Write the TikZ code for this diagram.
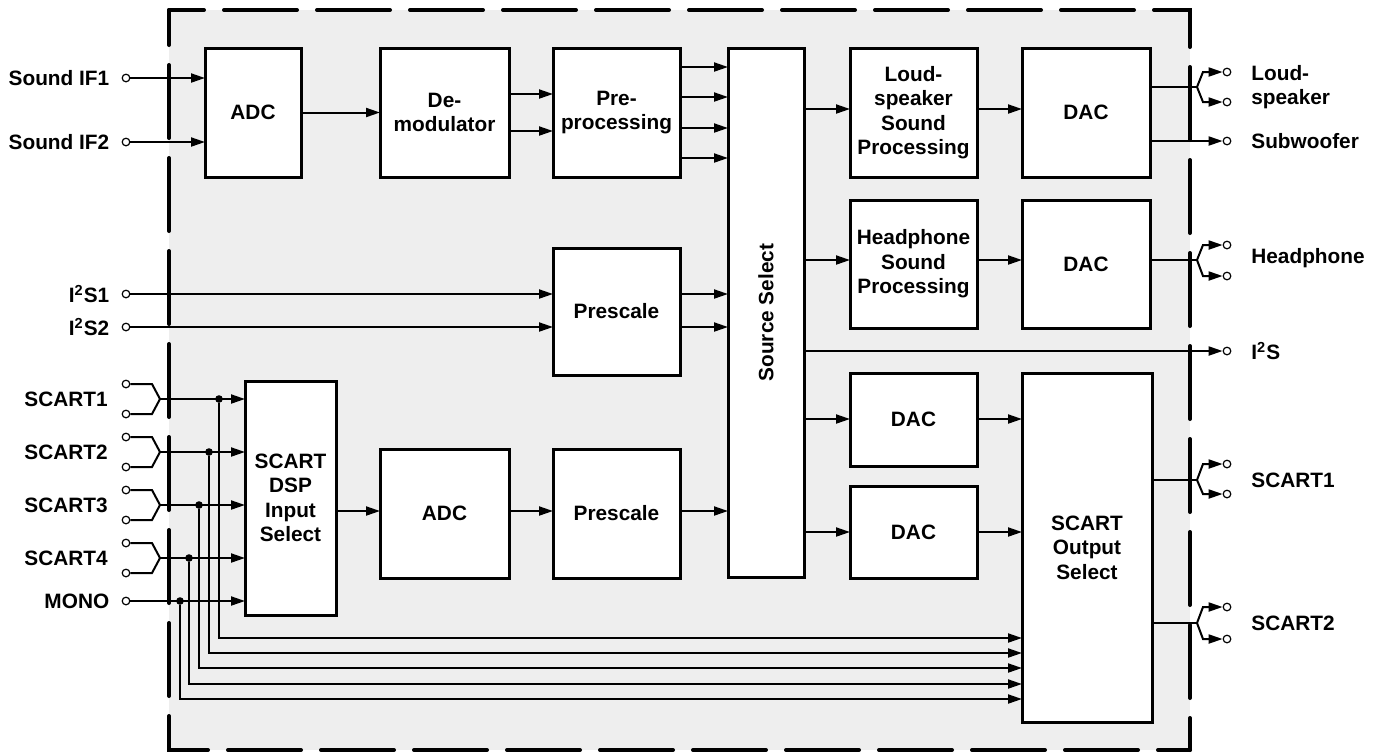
\documentclass[tikz,border=0pt]{standalone}
\usepackage{fontspec}
\setmainfont{Liberation Sans}
\usetikzlibrary{positioning,arrows.meta}
\definecolor{chipgray}{HTML}{EEEEEE}

\begin{document}
\begin{tikzpicture}[
  x=0.5pt, y=-0.5pt,
  box/.style={draw, line width=1.5pt, fill=white, outer sep=0pt, inner sep=1pt,
              align=center, minimum width=63.5pt, minimum height=64.5pt,
              font=\bfseries\fontsize{10.4}{12.2}\selectfont},
  lbl/.style={font=\bfseries\fontsize{10.4}{12.2}\selectfont, inner sep=0pt},
  term/.style={circle, draw, fill=white, line width=0.6pt, inner sep=0pt, minimum size=3.8pt},
  jdot/.style={circle, fill, inner sep=0pt, minimum size=3.8pt},
  wire/.style={line width=1pt},
  arr/.style={wire, -{Triangle[length=7pt,width=4.5pt]}},
  chipedge/.style={line width=2pt, line cap=round, dash pattern=on 36.5pt off 10pt, dash phase=19pt}
]
\useasboundingbox (0,0) rectangle (1383,752);

% chip outline
\fill[chipgray] (169,10) rectangle (1190,750);
\draw[chipedge] (169,10) -- (1190,10) -- (1190,750);
\draw[chipedge] (169,10) -- (169,750) -- (1190,750);

% blocks
\node[box, minimum width=48pt] (adc) at (253,112.5) {ADC};
\node[box, minimum width=64.5pt, right=39.5pt of adc] (demod) {De-\\modulator};
\node[box, right=22pt of demod] (pre) {Pre-\\processing};
\node[box, minimum width=38pt, minimum height=264.5pt,
      right=24pt of pre.north east, anchor=north west] (src) {};
\node[lbl, rotate=90] (srctxt) at (src) {Source Select};
\node[box, right=23pt of src.north east, anchor=north west] (lsp) {Loud-\\speaker\\Sound\\Processing};
\node[box, minimum width=64pt, right=22.5pt of lsp] (dac1) {DAC};
\node[box, minimum height=64pt, below=11.5pt of lsp] (hsp) {Headphone\\Sound\\Processing};
\node[box, minimum width=64pt, minimum height=64pt, right=22.5pt of hsp] (dac2) {DAC};
\node[box, minimum height=63.5pt, below=35.5pt of pre] (presc1) {Prescale};
\node[box, below=37pt of presc1] (presc2) {Prescale};
\node[box, minimum width=64.5pt, left=22pt of presc2] (adc2) {ADC};
\node[box, minimum width=45.5pt, minimum height=117pt] (sin) at (290.5,498) {SCART\\DSP\\Input\\Select};
\node[box, minimum height=46.5pt, below=22.5pt of hsp] (dac3) {DAC};
\node[box, minimum height=46pt, below=10pt of dac3] (dac4) {DAC};
\node[box, minimum width=65pt, minimum height=174.5pt,
      right=22.5pt of dac3.north east, anchor=north west] (sout) {SCART\\Output\\Select};

% inputs
\node[term] (sif1) at (126,78) {};
\node[lbl, left=6pt of sif1] (sif1l) {Sound IF1};
\node[term] (sif2) at (126,142) {};
\node[lbl, left=6pt of sif2] (sif2l) {Sound IF2};
\node[term] (i2s1) at (126,294) {};
\node[lbl, left=6pt of i2s1] (i2s1l) {I\textsuperscript{2}S1};
\node[term] (i2s2) at (126,327) {};
\node[lbl, left=6pt of i2s2] (i2s2l) {I\textsuperscript{2}S2};

\node[term] (scin1a) at (126,384) {};
\node[term] (scin1b) at (126,414) {};
\coordinate (scin1j) at (160,399);
\node[lbl, anchor=east] (scin1l) at (108,399) {SCART1};
\node[term] (scin2a) at (126,437) {};
\node[term] (scin2b) at (126,467) {};
\coordinate (scin2j) at (160,452);
\node[lbl, anchor=east] (scin2l) at (108,452) {SCART2};
\node[term] (scin3a) at (126,490) {};
\node[term] (scin3b) at (126,520) {};
\coordinate (scin3j) at (160,505);
\node[lbl, anchor=east] (scin3l) at (108,505) {SCART3};
\node[term] (scin4a) at (126,543) {};
\node[term] (scin4b) at (126,573) {};
\coordinate (scin4j) at (160,558);
\node[lbl, anchor=east] (scin4l) at (108,558) {SCART4};
\node[term] (mono) at (126,601) {};
\node[lbl, left=6pt of mono] (monol) {MONO};

% outputs
\node[term] (lsp1) at (1227,72) {};
\node[term] (lsp2) at (1227,102) {};
\coordinate (lspj) at (1197,87);
\node[lbl, anchor=west, align=left] (lspl) at (1251,87) {Loud-\\speaker};
\node[term] (sub) at (1227,141) {};
\node[lbl, anchor=west] (subl) at (1251,141) {Subwoofer};
\node[term] (hp1) at (1227,245) {};
\node[term] (hp2) at (1227,276) {};
\coordinate (hpj) at (1197,260);
\node[lbl, anchor=west] (hpl) at (1251,258) {Headphone};
\node[term] (i2so) at (1227,351) {};
\node[lbl, anchor=west] (i2sol) at (1251,351) {I\textsuperscript{2}S};
\node[term] (scout1a) at (1227,464) {};
\node[term] (scout1b) at (1227,494) {};
\coordinate (scout1j) at (1197,480);
\node[lbl, anchor=west] (scout1l) at (1251,480) {SCART1};
\node[term] (scout2a) at (1227,607) {};
\node[term] (scout2b) at (1227,639) {};
\coordinate (scout2j) at (1197,623);
\node[lbl, anchor=west] (scout2l) at (1251,623) {SCART2};

% sound IF path
\draw[arr] (sif1) -- (sif1 -| adc.west);
\draw[arr] (sif2) -- (sif2 -| adc.west);
\draw[arr] (adc) -- (demod);
\draw[arr] (demod.east |- 0,94) -- (pre.west |- 0,94);
\draw[arr] (demod.east |- 0,131) -- (pre.west |- 0,131);
\draw[arr] (pre.east |- 0,67) -- (src.west |- 0,67);
\draw[arr] (pre.east |- 0,97) -- (src.west |- 0,97);
\draw[arr] (pre.east |- 0,128) -- (src.west |- 0,128);
\draw[arr] (pre.east |- 0,158) -- (src.west |- 0,158);

% I2S path
\draw[arr] (i2s1) -- (i2s1 -| presc1.west);
\draw[arr] (i2s2) -- (i2s2 -| presc1.west);
\draw[arr] (presc1.east |- i2s1) -- (src.west |- i2s1);
\draw[arr] (presc1.east |- i2s2) -- (src.west |- i2s2);

% SCART inputs
\draw[wire] (scin1a) -- (152,384) -- (scin1j) -- (152,414) -- (scin1b);
\draw[wire] (scin2a) -- (152,437) -- (scin2j) -- (152,467) -- (scin2b);
\draw[wire] (scin3a) -- (152,490) -- (scin3j) -- (152,520) -- (scin3b);
\draw[wire] (scin4a) -- (152,543) -- (scin4j) -- (152,573) -- (scin4b);
\draw[arr] (scin1j) -- (scin1j -| sin.west);
\draw[arr] (scin2j) -- (scin2j -| sin.west);
\draw[arr] (scin3j) -- (scin3j -| sin.west);
\draw[arr] (scin4j) -- (scin4j -| sin.west);
\draw[arr] (mono) -- (mono -| sin.west);
\node[jdot] (j1) at (219,399) {};
\node[jdot] (j2) at (209,452) {};
\node[jdot] (j3) at (199,505) {};
\node[jdot] (j4) at (189,558) {};
\node[jdot] (j5) at (180,601) {};
\draw[arr] (j1) |- (sout.west |- 0,638);
\draw[arr] (j2) |- (sout.west |- 0,653);
\draw[arr] (j3) |- (sout.west |- 0,668);
\draw[arr] (j4) |- (sout.west |- 0,684);
\draw[arr] (j5) |- (sout.west |- 0,699);
\draw[arr] (sin.east |- 0,511) -- (adc2.west |- 0,511);
\draw[arr] (adc2.east |- 0,511) -- (presc2.west |- 0,511);
\draw[arr] (presc2.east |- 0,511) -- (src.west |- 0,511);

% source select outputs
\draw[arr] (src.east |- 0,109) -- (lsp.west |- 0,109);
\draw[arr] (lsp.east |- 0,109) -- (dac1.west |- 0,109);
\draw[arr] (src.east |- hpj) -- (hsp.west |- hpj);
\draw[arr] (hsp.east |- hpj) -- (dac2.west |- hpj);
\draw[arr] (src.east |- i2so) -- (i2so);
\draw[arr] (src.east |- 0,419) -- (dac3.west |- 0,419);
\draw[arr] (dac3.east |- 0,419) -- (sout.west |- 0,419);
\draw[arr] (src.east |- 0,532) -- (dac4.west |- 0,532);
\draw[arr] (dac4.east |- 0,532) -- (sout.west |- 0,532);

% output pins
\draw[wire] (dac1.east |- lspj) -- (lspj);
\draw[arr] (lspj) -- (1203,72) -- (lsp1);
\draw[arr] (lspj) -- (1203,102) -- (lsp2);
\draw[arr] (dac1.east |- sub) -- (sub);
\draw[wire] (dac2.east |- hpj) -- (hpj);
\draw[arr] (hpj) -- (1203,245) -- (hp1);
\draw[arr] (hpj) -- (1203,276) -- (hp2);
\draw[wire] (sout.east |- scout1j) -- (scout1j);
\draw[arr] (scout1j) -- (1203,464) -- (scout1a);
\draw[arr] (scout1j) -- (1203,494) -- (scout1b);
\draw[wire] (sout.east |- scout2j) -- (scout2j);
\draw[arr] (scout2j) -- (1203,607) -- (scout2a);
\draw[arr] (scout2j) -- (1203,639) -- (scout2b);

\end{tikzpicture}
\end{document}
